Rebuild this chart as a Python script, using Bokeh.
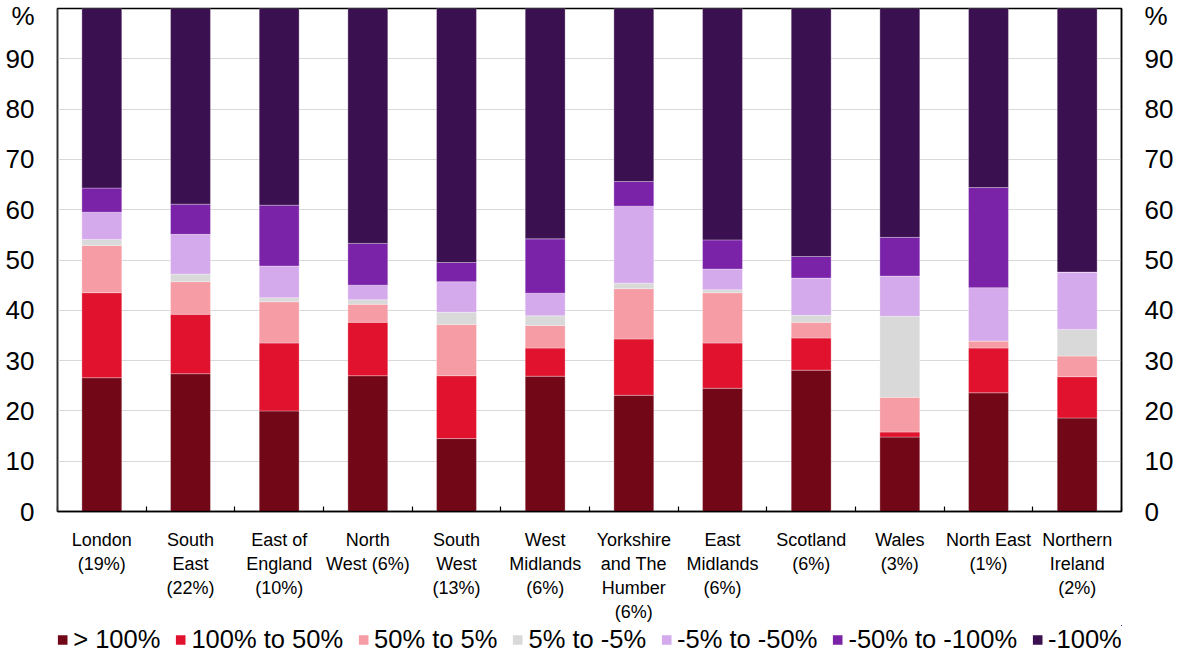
from bokeh.plotting import figure
from bokeh.layouts import column
from bokeh.models import ColumnDataSource, Range1d, FixedTicker, LinearAxis, Legend, LegendItem
from bokeh.embed import file_html
from bokeh.resources import INLINE

regions = ["London\n(19%)", "South\nEast\n(22%)", "East of\nEngland\n(10%)", "North\nWest (6%)",
           "South\nWest\n(13%)", "West\nMidlands\n(6%)", "Yorkshire\nand The\nHumber\n(6%)",
           "East\nMidlands\n(6%)", "Scotland\n(6%)", "Wales\n(3%)", "North East\n(1%)",
           "Northern\nIreland\n(2%)"]

series_names = ["> 100%", "100% to 50%", "50% to 5%", "5% to -5%", "-5% to -50%", "-50% to -100%", "-100%"]

gt100 =      [26.6, 27.4, 20.0, 27.0, 14.5, 26.9, 23.1, 24.5, 28.1, 14.8, 23.6, 18.6]
p100_50 =    [16.9, 11.8, 13.5, 10.6, 12.5,  5.6, 11.2,  9.0,  6.4,  1.0,  8.9,  8.2]
p50_5 =      [ 9.4,  6.5,  8.2,  3.6, 10.2,  4.5, 10.0, 10.0,  3.1,  6.9,  1.4,  4.1]
p5_m5 =      [ 1.2,  1.5,  0.8,  0.9,  2.4,  1.9,  1.1,  0.6,  1.4, 16.1,  0.0,  5.3]
m5_m50 =     [ 5.4,  7.9,  6.3,  2.9,  6.1,  4.5, 15.3,  4.1,  7.4,  8.0, 10.6, 11.4]
m50_m100 =   [ 4.8,  6.0, 12.1,  8.3,  3.8, 10.8,  4.9,  5.8,  4.3,  7.7, 19.9,  0.0]
m100 =       [35.7, 38.9, 39.1, 46.7, 50.5, 45.8, 34.4, 46.0, 49.3, 45.5, 35.6, 52.4]

colors = ["#720817", "#E0122D", "#F69CA5", "#D9D9D9", "#D5AAEC", "#7A22A8", "#3A1050"]
y_ticks = [0, 10, 20, 30, 40, 50, 60, 70, 80, 90]
PCT_TICK = 98.8  # position of the "%" unit label at the top of both value axes

FONT = "Liberation Sans"
keys = ["s0", "s1", "s2", "s3", "s4", "s5", "s6"]
xs = [i + 1 for i in range(len(regions))]
data = dict(x=xs)
for k, v in zip(keys, [gt100, p100_50, p50_5, p5_m5, m5_m50, m50_m100, m100]):
    data[k] = v
source = ColumnDataSource(data)

p = figure(width=1177, height=625, output_backend="svg", toolbar_location=None,
           x_range=Range1d(0.5, len(regions) + 0.5), y_range=Range1d(0, 100),
           min_border_left=57, min_border_right=56, min_border_top=8, min_border_bottom=114,
           y_axis_location=None)
p.outline_line_color = "black"
p.outline_line_width = 1.5
p.xgrid.grid_line_color = None
p.ygrid.grid_line_color = "#D9D9D9"
p.ygrid.grid_line_width = 1
p.ygrid.ticker = FixedTicker(ticks=y_ticks)

renderers = p.vbar_stack(keys, x="x", width=0.45, source=source, color=colors,
                         line_color="white", line_width=0.6, line_alpha=0.5)

# x axis
xa = p.xaxis[0]
xa.ticker = FixedTicker(ticks=xs, minor_ticks=[i + 0.5 for i in range(len(regions) + 1)])
xa.major_label_overrides = {x: r for x, r in zip(xs, regions)}
xa.major_tick_in = 0
xa.major_tick_out = 0
xa.minor_tick_in = 5
xa.minor_tick_out = 0
xa.minor_tick_line_color = "black"
xa.minor_tick_line_width = 1.2
xa.axis_line_color = "black"
xa.axis_line_width = 1.5
xa.major_label_text_font = FONT
xa.major_label_text_font_size = "18px"
xa.major_label_text_color = "black"
xa.major_label_standoff = 18

labels = {t: str(t) for t in y_ticks}
labels[PCT_TICK] = "%"
for side in ["left", "right"]:
    ax = LinearAxis(ticker=FixedTicker(ticks=y_ticks + [PCT_TICK]), major_label_overrides=labels)
    ax.major_tick_in = 0
    ax.major_tick_out = 0
    ax.minor_tick_in = 0
    ax.minor_tick_out = 0
    ax.axis_line_color = "#333333" if side == "left" else "black"
    ax.axis_line_width = 1.5
    ax.major_label_text_font = FONT
    ax.major_label_text_font_size = "26px"
    ax.major_label_text_color = "black"
    ax.major_label_standoff = 23
    p.add_layout(ax, side)

# legend strip below the chart; the stacked bars are drawn again far out of view to feed the legend
lg = figure(width=1177, height=28, output_backend="svg", toolbar_location=None,
            x_range=Range1d(-100, -99), y_range=Range1d(-100, -99),
            x_axis_location=None, y_axis_location=None,
            min_border_left=0, min_border_right=0, min_border_top=0, min_border_bottom=0)
lg.outline_line_color = None
lg.outline_line_alpha = 0
lg.grid.visible = False
swatches = lg.vbar_stack(keys, x="x", width=0.45, source=source, color=colors, line_alpha=0)
legend = Legend(items=[LegendItem(label=n, renderers=[r]) for n, r in zip(series_names, swatches)],
                orientation="horizontal", location="center",
                label_text_font=FONT, label_text_font_size="25.5px", label_text_color="black",
                glyph_width=12, glyph_height=12, label_standoff=5, spacing=14,
                padding=0, margin=0, border_line_color=None, background_fill_alpha=0)
lg.add_layout(legend, "center")

layout = column(p, lg, spacing=0)
open("out.html", "w").write(file_html(layout, INLINE))
